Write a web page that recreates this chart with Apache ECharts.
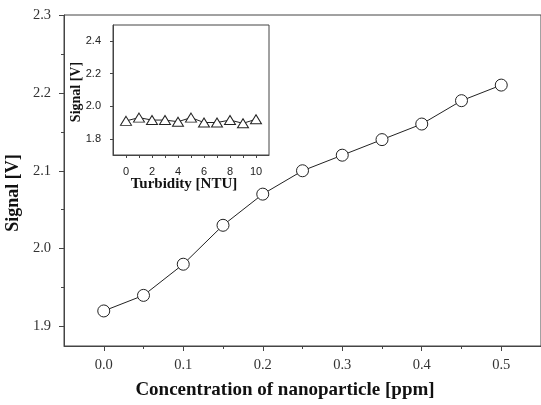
<!DOCTYPE html>
<html><head><meta charset="utf-8">
<script src="https://cdn.jsdelivr.net/npm/echarts@6/dist/echarts.min.js"></script>
<style>html,body{margin:0;padding:0;background:#fff}#c{width:541px;height:405px}</style>
</head><body><div id="c"></div>
<script>
// Main chart data
const concentration = [0.0, 0.05, 0.1, 0.15, 0.2, 0.25, 0.3, 0.35, 0.4, 0.45, 0.5];
const signalMain = [1.92, 1.94, 1.98, 2.03, 2.07, 2.10, 2.12, 2.14, 2.16, 2.19, 2.21];
const mainXLabels = [0.0, 0.1, 0.2, 0.3, 0.4, 0.5];
const mainXMinor = [0.05, 0.15, 0.25, 0.35, 0.45];
const mainYLabels = [1.9, 2.0, 2.1, 2.2, 2.3];
const mainYMinor = [1.95, 2.05, 2.15, 2.25];
// Inset data
const turbidity = [0, 1, 2, 3, 4, 5, 6, 7, 8, 9, 10];
const signalInset = [1.91, 1.93, 1.915, 1.915, 1.905, 1.93, 1.90, 1.90, 1.915, 1.895, 1.92];
const insetXLabels = [0, 2, 4, 6, 8, 10];
const insetXTicks = [0, 1, 2, 3, 4, 5, 6, 7, 8, 9, 10];
const insetYLabels = [1.8, 2.0, 2.2, 2.4];

const serif = '"Liberation Serif","Times New Roman",serif';
const sans = '"Liberation Sans",Arial,sans-serif';
const ax = '#444';

const chart = echarts.init(document.getElementById('c'), null, {renderer: 'canvas'});
chart.setOption({
  animation: false,
  backgroundColor: '#fff',
  grid: [
    {left: 64, top: 15, right: -3, bottom: 59, show: true, borderColor: ax, borderWidth: 1, backgroundColor: 'transparent'},
    {left: 113, top: 25, width: 156, height: 130, show: true, borderColor: ax, borderWidth: 1, backgroundColor: '#fff', z: 5}
  ],
  xAxis: [
    {gridIndex: 0, type: 'value', position: 'bottom', min: -0.05, max: 0.55, splitLine: {show: false},
     axisLine: {onZero: false, lineStyle: {color: ax}},
     axisTick: {customValues: mainXLabels, length: 5, inside: false, lineStyle: {color: ax}},
     axisLabel: {customValues: mainXLabels, formatter: v => v.toFixed(1), margin: 12, fontFamily: serif, fontSize: 14.5, color: '#333'}},
    {gridIndex: 0, type: 'value', position: 'bottom', offset: 0, min: -0.05, max: 0.55, splitLine: {show: false},
     axisLine: {show: false, onZero: false},
     axisTick: {customValues: mainXMinor, length: 3, lineStyle: {color: ax}},
     axisLabel: {show: false}},
    {gridIndex: 1, type: 'value', position: 'bottom', min: -1, max: 11, splitLine: {show: false}, z: 6,
     axisLine: {onZero: false, lineStyle: {color: ax}},
     axisTick: {customValues: insetXTicks, length: 3, lineStyle: {color: ax}},
     axisLabel: {customValues: insetXLabels, margin: 11, fontFamily: sans, fontSize: 11, color: '#222'}}
  ],
  yAxis: [
    {gridIndex: 0, type: 'value', position: 'left', min: 1.875, max: 2.3, splitLine: {show: false},
     axisLine: {show: true, onZero: false, lineStyle: {color: ax}},
     axisTick: {show: true, customValues: mainYLabels, length: 5, lineStyle: {color: ax}},
     axisLabel: {customValues: mainYLabels, formatter: v => v.toFixed(1), margin: 13, fontFamily: serif, fontSize: 14.5, color: '#333'}},
    {gridIndex: 0, type: 'value', position: 'left', offset: 0, min: 1.875, max: 2.3, splitLine: {show: false},
     axisLine: {show: false, onZero: false},
     axisTick: {show: true, customValues: mainYMinor, length: 3, lineStyle: {color: ax}},
     axisLabel: {show: false}},
    {gridIndex: 1, type: 'value', position: 'left', min: 1.7, max: 2.5, splitLine: {show: false}, z: 6,
     axisLine: {show: true, onZero: false, lineStyle: {color: ax}},
     axisTick: {show: true, customValues: insetYLabels, length: 3, lineStyle: {color: ax}},
     axisLabel: {customValues: insetYLabels, formatter: v => v.toFixed(1), margin: 12, fontFamily: sans, fontSize: 11, color: '#222'}}
  ],
  series: [
    {type: 'line', xAxisIndex: 0, yAxisIndex: 0, data: concentration.map((x, i) => [x, signalMain[i]]),
     symbol: 'circle', symbolSize: 12, lineStyle: {color: '#222', width: 1},
     itemStyle: {color: '#fff', borderColor: '#222', borderWidth: 1}},
    {type: 'line', xAxisIndex: 2, yAxisIndex: 2, z: 7, data: turbidity.map((x, i) => [x, signalInset[i]]),
     symbol: 'triangle', symbolSize: [11, 9], lineStyle: {color: '#222', width: 1},
     itemStyle: {color: '#fff', borderColor: '#222', borderWidth: 1}}
  ],
  graphic: [
    {type: 'text', x: 285, y: 381, style: {text: 'Concentration of nanoparticle [ppm]', fontFamily: serif, fontWeight: 'bold', fontSize: 19, fill: '#111', align: 'center', verticalAlign: 'top'}, z: 10},
    {type: 'text', rotation: Math.PI / 2, x: 4, y: 193, style: {text: 'Signal [V]', fontFamily: serif, fontWeight: 'bold', fontSize: 18, fill: '#111', align: 'center', verticalAlign: 'top'}, z: 10},
    {type: 'text', x: 184, y: 177, style: {text: 'Turbidity [NTU]', fontFamily: serif, fontWeight: 'bold', fontSize: 15, fill: '#111', align: 'center', verticalAlign: 'top'}, z: 10},
    {type: 'text', rotation: Math.PI / 2, x: 69, y: 92, style: {text: 'Signal [V]', fontFamily: serif, fontWeight: 'bold', fontSize: 14, fill: '#111', align: 'center', verticalAlign: 'top'}, z: 10}
  ]
});
</script></body></html>
